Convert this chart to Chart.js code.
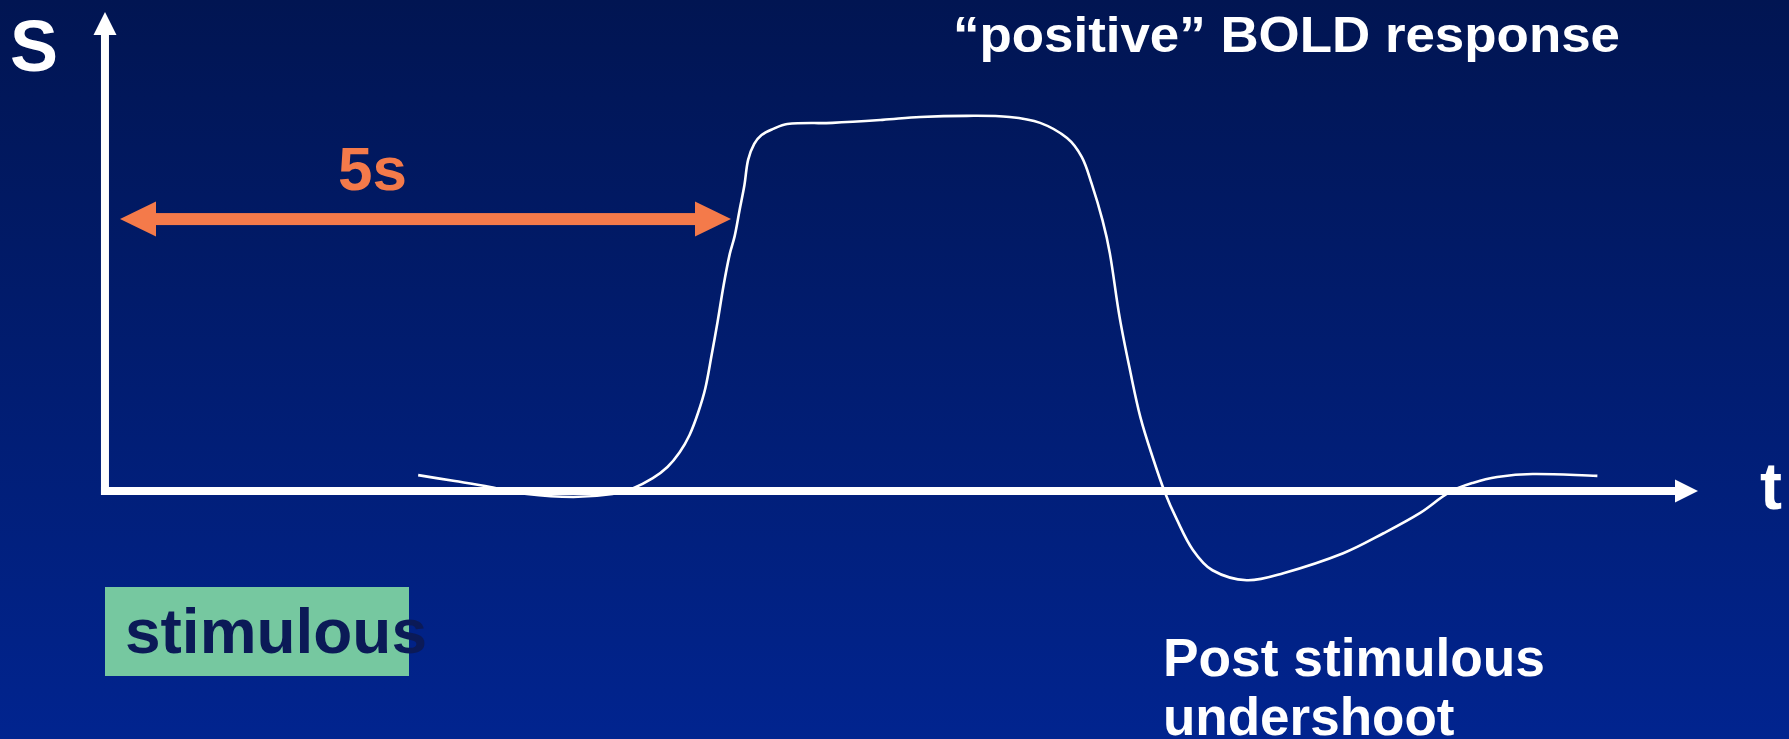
<!DOCTYPE html>
<html>
<head>
<meta charset="utf-8">
<title>BOLD response</title>
<script src="https://cdn.jsdelivr.net/npm/chart.js@4/dist/chart.umd.min.js"></script>
<style>
  html, body { margin: 0; padding: 0; background: #011553; overflow: hidden; }
  #c { display: block; }
</style>
</head>
<body>
<canvas id="c" width="1789" height="739"></canvas>
<script>
// Time after stimulus onset (s) and signal (plateau = 1)
const timeS = [2.44, 2.74, 3.03, 3.33, 3.71, 4.03,
  4.20, 4.36, 4.48, 4.58, 4.66, 4.73, 4.79, 4.84, 4.89, 4.94, 4.99, 5.03, 5.07, 5.11, 5.14, 5.19, 5.25, 5.34, 5.46,
  5.83, 6.24, 6.55, 6.93, 7.28, 7.53, 7.75, 7.87, 7.95,
  8.04, 8.10, 8.18, 8.27, 8.35, 8.45, 8.55, 8.65, 8.78, 8.94, 9.22, 9.52, 10.01, 10.34, 10.64, 10.88,
  11.07, 11.27, 11.56, 12.09];
const signal = [0.043, 0.027, 0.011, -0.008, -0.016, -0.008,
  0.008, 0.035, 0.065, 0.105, 0.151, 0.211, 0.278, 0.365, 0.457, 0.557, 0.641, 0.689, 0.759, 0.827, 0.895, 0.938, 0.962, 0.978, 0.992,
  0.995, 1.003, 1.011, 1.014, 1.011, 0.995, 0.954, 0.903, 0.832,
  0.732, 0.643, 0.470, 0.319, 0.200, 0.092, -0.003, -0.078, -0.159, -0.214, -0.241, -0.222, -0.168, -0.114, -0.059, -0.003,
  0.022, 0.038, 0.046, 0.041];

// Delay marker: double arrow spanning 0..5 s
const delaySpan = [0, 5];
const delayLevel = 0.735;
const delayLabel = '5s';

// Axis and annotation labels
const yAxisLabel = 'S';
const xAxisLabel = 't';
const titleText = '\u201Cpositive\u201D BOLD response';
const stimulusText = 'stimulous';
const undershootLines = ['Post stimulous', 'undershoot'];

const FONT = '"Liberation Sans", Arial, Helvetica, sans-serif';

function boldText(ctx, text, x, y, size, color, width) {
  ctx.save();
  ctx.font = 'bold ' + size + 'px ' + FONT;
  ctx.fillStyle = color;
  ctx.textBaseline = 'alphabetic';
  ctx.textAlign = 'left';
  if (width) {
    const w = ctx.measureText(text).width;
    ctx.translate(x, y);
    ctx.scale(width / w, 1);
    ctx.fillText(text, 0, 0);
  } else {
    ctx.fillText(text, x, y);
  }
  ctx.restore();
}

function arrowHead(ctx, tipX, tipY, dx, dy, len, half) {
  // dx,dy: unit direction the arrow points to
  const bx = tipX - dx * len, by = tipY - dy * len;
  ctx.beginPath();
  ctx.moveTo(tipX, tipY);
  ctx.lineTo(bx - dy * half, by + dx * half);
  ctx.lineTo(bx + dy * half, by - dx * half);
  ctx.closePath();
  ctx.fill();
}

const backdrop = {
  id: 'backdrop',
  beforeDraw(chart) {
    const ctx = chart.ctx;
    const g = ctx.createLinearGradient(0, 0, 0, chart.height);
    g.addColorStop(0, '#011552');
    g.addColorStop(1, '#01248f');
    ctx.save();
    ctx.fillStyle = g;
    ctx.fillRect(0, 0, chart.width, chart.height);

    // stimulus block
    ctx.fillStyle = '#76c8a0';
    ctx.fillRect(105, 587, 304, 89);
    ctx.restore();
  },
  beforeDatasetsDraw(chart) {
    const ctx = chart.ctx;
    const xs = chart.scales.x, ys = chart.scales.y;
    const y0 = ys.getPixelForValue(0);
    const axX = xs.getPixelForValue(-0.123);
    ctx.save();
    ctx.fillStyle = '#ffffff';
    ctx.strokeStyle = '#ffffff';
    ctx.lineWidth = 8;
    ctx.lineCap = 'butt';
    // horizontal (time) axis
    ctx.beginPath();
    ctx.moveTo(axX - 4, y0);
    ctx.lineTo(1676, y0);
    ctx.stroke();
    arrowHead(ctx, 1698, y0, 1, 0, 23, 11.5);
    // vertical (signal) axis
    ctx.beginPath();
    ctx.moveTo(axX, y0 + 4);
    ctx.lineTo(axX, 34);
    ctx.stroke();
    arrowHead(ctx, axX, 12, 0, -1, 23, 11.5);
    ctx.restore();
  },
  afterDatasetsDraw(chart) {
    const ctx = chart.ctx;
    const xs = chart.scales.x, ys = chart.scales.y;
    // delay double arrow
    const ay = ys.getPixelForValue(delayLevel);
    const ax0 = xs.getPixelForValue(delaySpan[0]);
    const ax1 = xs.getPixelForValue(delaySpan[1]);
    ctx.save();
    ctx.fillStyle = '#f47a4a';
    ctx.fillRect(ax0 + 30, ay - 6, (ax1 - ax0) - 60, 12);
    arrowHead(ctx, ax0, ay, -1, 0, 36, 17.5);
    arrowHead(ctx, ax1, ay, 1, 0, 36, 17.5);
    ctx.restore();

    boldText(ctx, delayLabel, 338, 190, 62, '#f47a4a');
    boldText(ctx, yAxisLabel, 10, 71, 72, '#ffffff');
    boldText(ctx, xAxisLabel, 1760, 509, 66, '#ffffff');
    boldText(ctx, titleText, 953, 52, 50, '#ffffff', 667);
    boldText(ctx, stimulusText, 125, 653, 63, '#0b1a57', 302);
    boldText(ctx, undershootLines[0], 1163, 676, 53, '#ffffff', 382);
    boldText(ctx, undershootLines[1], 1163, 735, 53, '#ffffff');
  }
};

new Chart(document.getElementById('c'), {
  type: 'line',
  data: {
    datasets: [{
      data: timeS.map((t, i) => ({ x: t, y: signal[i] })),
      borderColor: '#ffffff',
      borderWidth: 2.6,
      pointRadius: 0,
      fill: false,
      tension: 0.35
    }]
  },
  options: {
    responsive: false,
    animation: false,
    devicePixelRatio: 1,
    layout: { padding: 0 },
    plugins: { legend: { display: false }, tooltip: { enabled: false }, title: { display: false } },
    scales: {
      x: { type: 'linear', display: false, min: -0.982, max: 13.658 },
      y: { type: 'linear', display: false, min: -0.670, max: 1.327 }
    }
  },
  plugins: [backdrop]
});
</script>
</body>
</html>
